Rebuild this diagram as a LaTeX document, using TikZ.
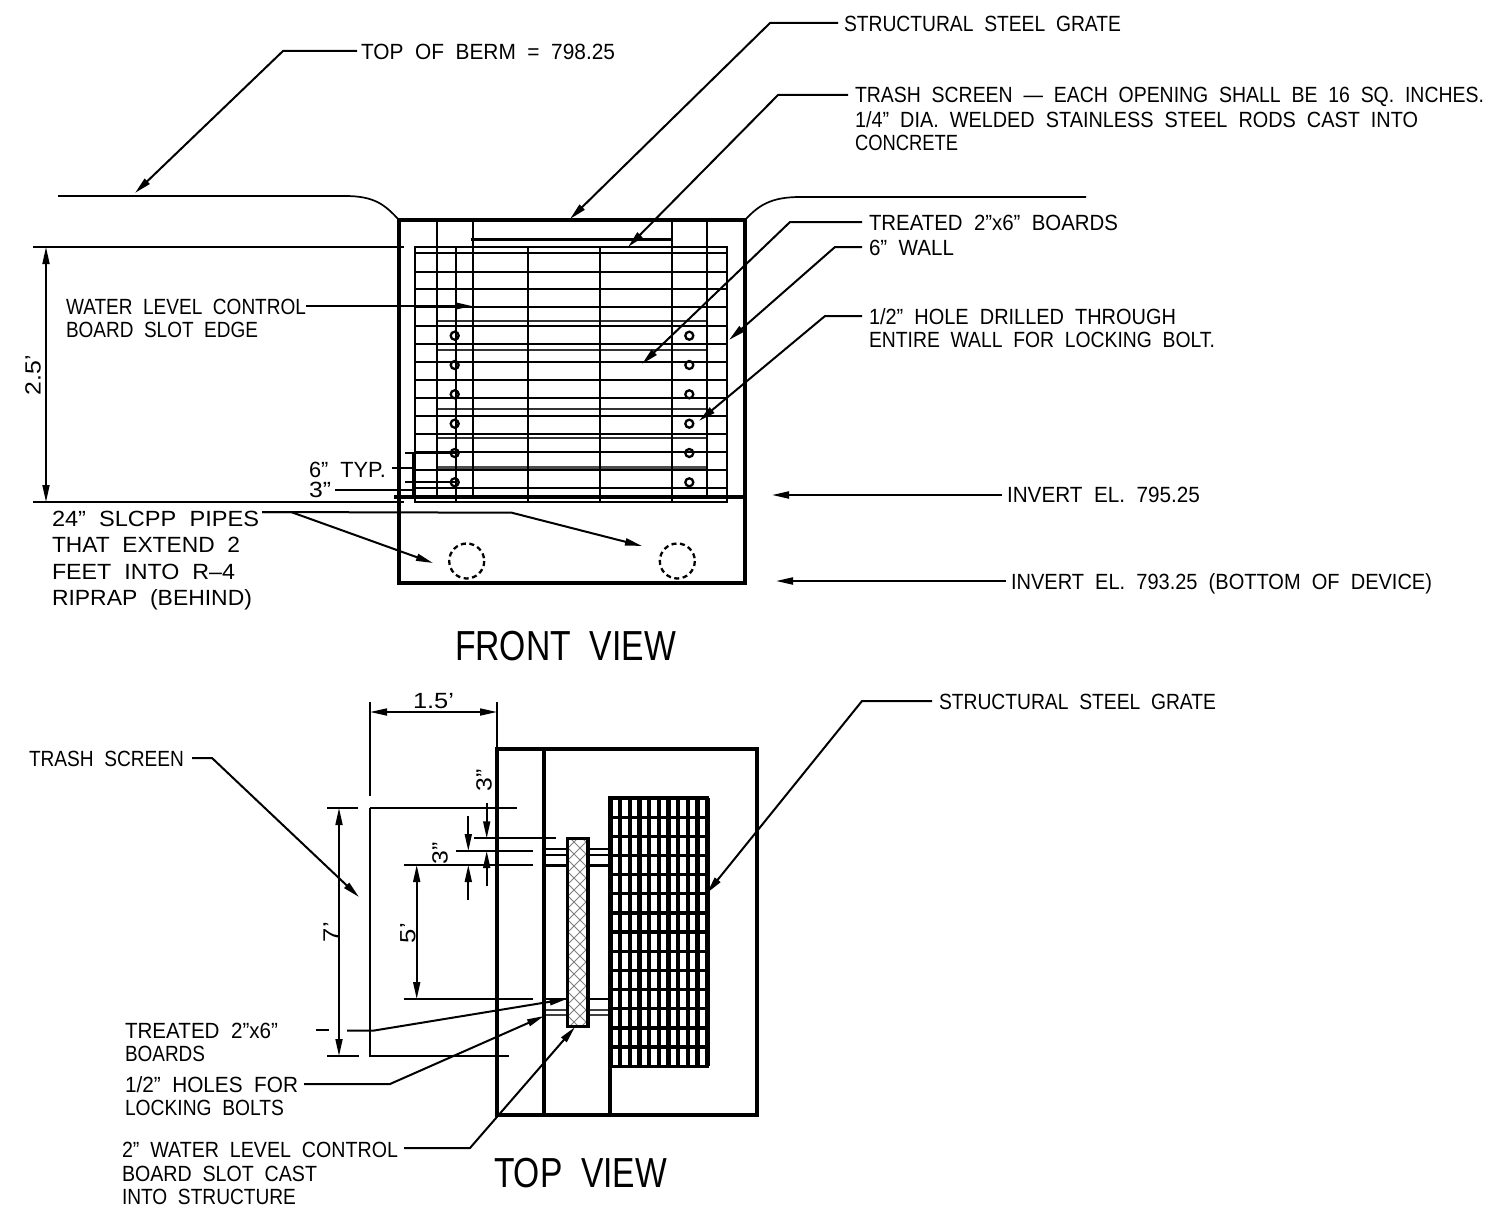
\documentclass[tikz,border=0pt]{standalone}
\usepackage{fontspec}
\usepackage{graphicx}
\setmainfont{Liberation Sans}
\usetikzlibrary{arrows.meta}
\newlength\fitlen
\newcommand\fitw[2]{\settowidth\fitlen{#2}\pgfmathsetmacro\fitr{#1/\fitlen}\raisebox{-0.8pt}{\scalebox{\fitr}[1]{#2}}}
\tikzset{
 lbl/.style={anchor=base west,inner sep=0pt,outer sep=0pt,font=\fontsize{22}{24}\selectfont},
 big/.style={anchor=base west,inner sep=0pt,outer sep=0pt,font=\fontsize{42}{44}\selectfont},
 rot/.style={anchor=center,inner sep=0pt,outer sep=0pt,rotate=90,font=\fontsize{22}{24}\selectfont},
 thinl/.style={line width=1.7pt},
 med/.style={line width=2.3pt},
 heavy/.style={line width=4pt},
 arr/.style={line width=2pt,-{Triangle[length=17pt,width=7pt]}},
 darr/.style={line width=1.7pt,{Triangle[length=17pt,width=7pt]}-{Triangle[length=17pt,width=7pt]}},
}
\begin{document}
\begin{tikzpicture}[x=1pt,y=-1pt,line cap=butt,line join=miter]
\fill[white] (0,0) rectangle (1487,1212);
\useasboundingbox (0,0) rectangle (1487,1212);
% ---------- FRONT VIEW ----------
\draw[thinl] (58,196) -- (345,196) .. controls (375,196) and (385,205) .. (399,220);
\draw[thinl] (1086,197) -- (800,197) .. controls (770,197) and (758,206) .. (745,220);
\draw[thinl] (33,247) -- (404,247);
\draw[thinl] (33,502) -- (404,502);
% boards
\foreach \y in {253.3,271.7,289.3,307.3,326,343.7,362,379.7,398,415.7,434,452,470,487.7}
  \draw[med] (415.3,\y) -- (727.3,\y);
\foreach \y in {321,350.3,409,438.3}
  \draw[thinl,black!80] (437,\y) -- (707.5,\y);
\draw[line width=3pt,black!70] (437,467.3) -- (707.5,467.3);
\draw[thinl] (415.3,247.3) rectangle (727.3,502);
\foreach \x in {437.3,472.7,671.7,707.3}
  \draw[med] (\x,220) -- (\x,496);
\foreach \x in {456,528,600,672}
  \draw[med] (\x,247.3) -- (\x,502);
\draw[heavy] (399,220) rectangle (745,583);
\draw[heavy] (394,497) -- (745,497);
\draw[line width=3.5pt] (470.7,239.3) -- (673,239.3);
\foreach \y in {335.7,365,394.3,423.7,453,482.3}{
  \draw[med] (454.7,\y) circle (4);
  \draw[med] (689.3,\y) circle (4);
}
\draw[med,dash pattern=on 5pt off 3.5pt] (466.7,561) circle (17.5);
\draw[med,dash pattern=on 5pt off 3.5pt] (677.3,561) circle (17.5);
% 6 TYP dims
\draw[med] (405,453) -- (455,453);
\draw[med] (405,482) -- (455,482);
\draw[thinl] (412.7,453) -- (412.7,497);
\draw[thinl] (392,468) -- (412.7,468);
% 2.5 dim
\draw[darr] (46,247) -- (46,502);
% front labels
\node[lbl] (t1) at (844,31) {\fitw{277}{STRUCTURAL~~STEEL~~GRATE}};
\node[lbl] (t2) at (361,59) {\fitw{254}{TOP~~OF~~BERM~~=~~798.25}};
\node[lbl] (t3) at (855,102) {\fitw{629}{TRASH~~SCREEN~~—~~EACH~~OPENING~~SHALL~~BE~~16~~SQ.~~INCHES.}};
\node[lbl] (t3b) at (855,127) {\fitw{563}{1/4”~~DIA.~~WELDED~~STAINLESS~~STEEL~~RODS~~CAST~~INTO}};
\node[lbl] (t3c) at (855,150) {\fitw{103}{CONCRETE}};
\node[lbl] (t4) at (869,230) {\fitw{249}{TREATED~~2”x6”~~BOARDS}};
\node[lbl] (t5) at (869,255) {\fitw{85}{6”~~WALL}};
\node[lbl] (t6) at (869,324) {\fitw{307}{1/2”~~HOLE~~DRILLED~~THROUGH}};
\node[lbl] (t6b) at (869,347) {\fitw{346}{ENTIRE~~WALL~~FOR~~LOCKING~~BOLT.}};
\node[lbl] (t7) at (66,314) {\fitw{240}{WATER~~LEVEL~~CONTROL}};
\node[lbl] (t7b) at (66,337) {\fitw{192}{BOARD~~SLOT~~EDGE}};
\node[lbl] (t8) at (309,477) {\fitw{77}{6”~~TYP.}};
\node[lbl] (t9) at (309,497) {\fitw{22}{3”}};
\node[lbl] (t10) at (52,526) {\fitw{207}{24”~~SLCPP~~PIPES}};
\node[lbl] (t10b) at (52,552) {\fitw{188}{THAT~~EXTEND~~2}};
\node[lbl] (t10c) at (52,579) {\fitw{183}{FEET~~INTO~~R–4}};
\node[lbl] (t10d) at (52,605) {\fitw{200}{RIPRAP~~(BEHIND)}};
\node[lbl] (t11) at (1007,502) {\fitw{193}{INVERT~~EL.~~795.25}};
\node[lbl] (t12) at (1011,589) {\fitw{421}{INVERT~~EL.~~793.25~~(BOTTOM~~OF~~DEVICE)}};
\node[big] (t13) at (455,660) {\fitw{221}{FRONT~~VIEW}};
\node[rot] (t14) at (33,375) {\fitw{40}{2.5’}};
% front leaders
\draw[arr] ([shift={(-6,-8)}]t1.base west) -- (770,23) -- (570,219);
\draw[arr] ([shift={(-4,-8)}]t2.base west) -- (283,51) -- (135,193);
\draw[arr] ([shift={(-7,-7)}]t3.base west) -- (778,95) -- (628,247);
\draw[arr] ([shift={(-7,-8)}]t4.base west) -- (790,222) -- (642,364);
\draw[arr] ([shift={(-7,-8)}]t5.base west) -- (835,247) -- (729,340);
\draw[arr] ([shift={(-7,-8)}]t6.base west) -- (825,316) -- (699,421);
\draw[arr] (t7.base east |- 0,306) -- (472,306);
\draw[arr] (262,512) -- (291,512) -- (433,563);
\draw[arr] (262,512) -- (511.7,512.7) -- (642,546);
\draw[thinl] (335,490) -- (412,490);
\draw[arr] ([shift={(-5,-7)}]t11.base west) -- (772,495);
\draw[arr] ([shift={(-5,-8)}]t12.base west) -- (776,581);
% ---------- TOP VIEW ----------
\foreach \y in {849,855}{
  \draw[thinl] (542,\y) -- (567,\y);
  \draw[thinl] (588,\y) -- (610,\y);
}
\draw[line width=3pt] (542,865) -- (567,865);
\draw[line width=3pt] (588,865) -- (612,865);
\foreach \y in {1010,1015.3}{
  \draw[thinl,black!75] (544,\y) -- (567,\y);
  \draw[thinl,black!75] (588,\y) -- (610,\y);
}
\draw[line width=2.6pt] (544,999) -- (567,999);
\draw[line width=2.6pt] (588,999) -- (612,999);
\begin{scope}
  \clip (567.3,838.3) rectangle (588,1026.7);
  \foreach \k in {-20,...,30}{
    \draw[line width=0.8pt,black!50] (540,820+\k*12) -- (620,900+\k*12);
    \draw[line width=0.8pt,black!50] (540,900+\k*12) -- (620,820+\k*12);
  }
\end{scope}
\draw[line width=3.5pt] (567.3,838.3) rectangle (588,1026.7);
\draw[heavy] (497,749) rectangle (757,1115);
\draw[heavy] (544,749) -- (544,1115);
\draw[heavy] (610.3,798) -- (610.3,1115);
\foreach \i in {0,...,10}
  \draw[line width=4.4pt] (610.3+\i*9.7,798) -- (610.3+\i*9.7,1065.5);
\foreach \i in {0,...,14}
  \draw[line width=3.3pt] (608.3,798+\i*19.16) -- (709.3,798+\i*19.16);
% dimensions
\draw[thinl] (370,702) -- (370,796);
\draw[thinl] (497,702) -- (497,749);
\draw[darr] (370,712) -- (497,712);
\draw[thinl] (370,808) -- (516.7,808);
\draw[thinl] (327,808) -- (358,808);
\draw[thinl] (370,808) -- (370,1056);
\draw[thinl] (369,1056) -- (509,1056);
\draw[thinl] (327,1056) -- (359,1056);
\draw[darr] (339,808) -- (339,1056);
\draw[thinl] (474.3,838.3) -- (555.7,838.3);
\draw[thinl] (456,851) -- (533,851);
\draw[thinl] (404,865) -- (533,865);
\draw[thinl] (404,999) -- (532.7,999);
\draw[darr] (416.7,865) -- (416.7,999);
\draw[arr,line width=1.7pt] (468.3,816) -- (468.3,851);
\draw[arr,line width=1.7pt] (468.3,900) -- (468.3,865);
\draw[arr,line width=1.7pt] (486.7,802.7) -- (486.7,838.3);
\draw[arr,line width=1.7pt] (486.7,886) -- (486.7,851);
% top labels
\node[lbl] (u1) at (939,709) {\fitw{277}{STRUCTURAL~~STEEL~~GRATE}};
\node[lbl] (u2) at (29,766) {\fitw{155}{TRASH~~SCREEN}};
\node[lbl] (u3) at (413,708) {\fitw{41}{1.5’}};
\node[lbl] (u4) at (125,1038) {\fitw{153}{TREATED~~2”x6”}};
\node[lbl] (u4b) at (125,1061) {\fitw{80}{BOARDS}};
\node[lbl] (u5) at (125,1092) {\fitw{173}{1/2”~~HOLES~~FOR}};
\node[lbl] (u5b) at (125,1115) {\fitw{159}{LOCKING~~BOLTS}};
\node[lbl] (u6) at (122,1157) {\fitw{276}{2”~~WATER~~LEVEL~~CONTROL}};
\node[lbl] (u6b) at (122,1181) {\fitw{195}{BOARD~~SLOT~~CAST}};
\node[lbl] (u6c) at (122,1204) {\fitw{174}{INTO~~STRUCTURE}};
\node[big] (u7) at (494,1187) {\fitw{173}{TOP~~VIEW}};
\node[rot] (u8) at (331,932) {\fitw{20}{7’}};
\node[rot] (u9) at (408,933) {\fitw{20}{5’}};
\node[rot] (u10) at (484,780) {\fitw{22}{3”}};
\node[rot] (u11) at (440,853) {\fitw{22}{3”}};
% top leaders
\draw[arr] ([shift={(-7,-8)}]u1.base west) -- (862,701) -- (707,893);
\draw[arr] ([shift={(8,-8)}]u2.base east) -- (212,758) -- (359,897);
\draw[thinl] ([shift={(38,-8)}]u4.base east) -- (329,1030);
\draw[arr] (347,1030.7) -- (373,1030.7) -- (566.7,999);
\draw[arr] ([shift={(6,-8)}]u5.base east) -- (390,1084) -- (544,1016);
\draw[arr] ([shift={(6,-9)}]u6.base east) -- (470,1148) -- (575,1027);
\end{tikzpicture}
\end{document}
